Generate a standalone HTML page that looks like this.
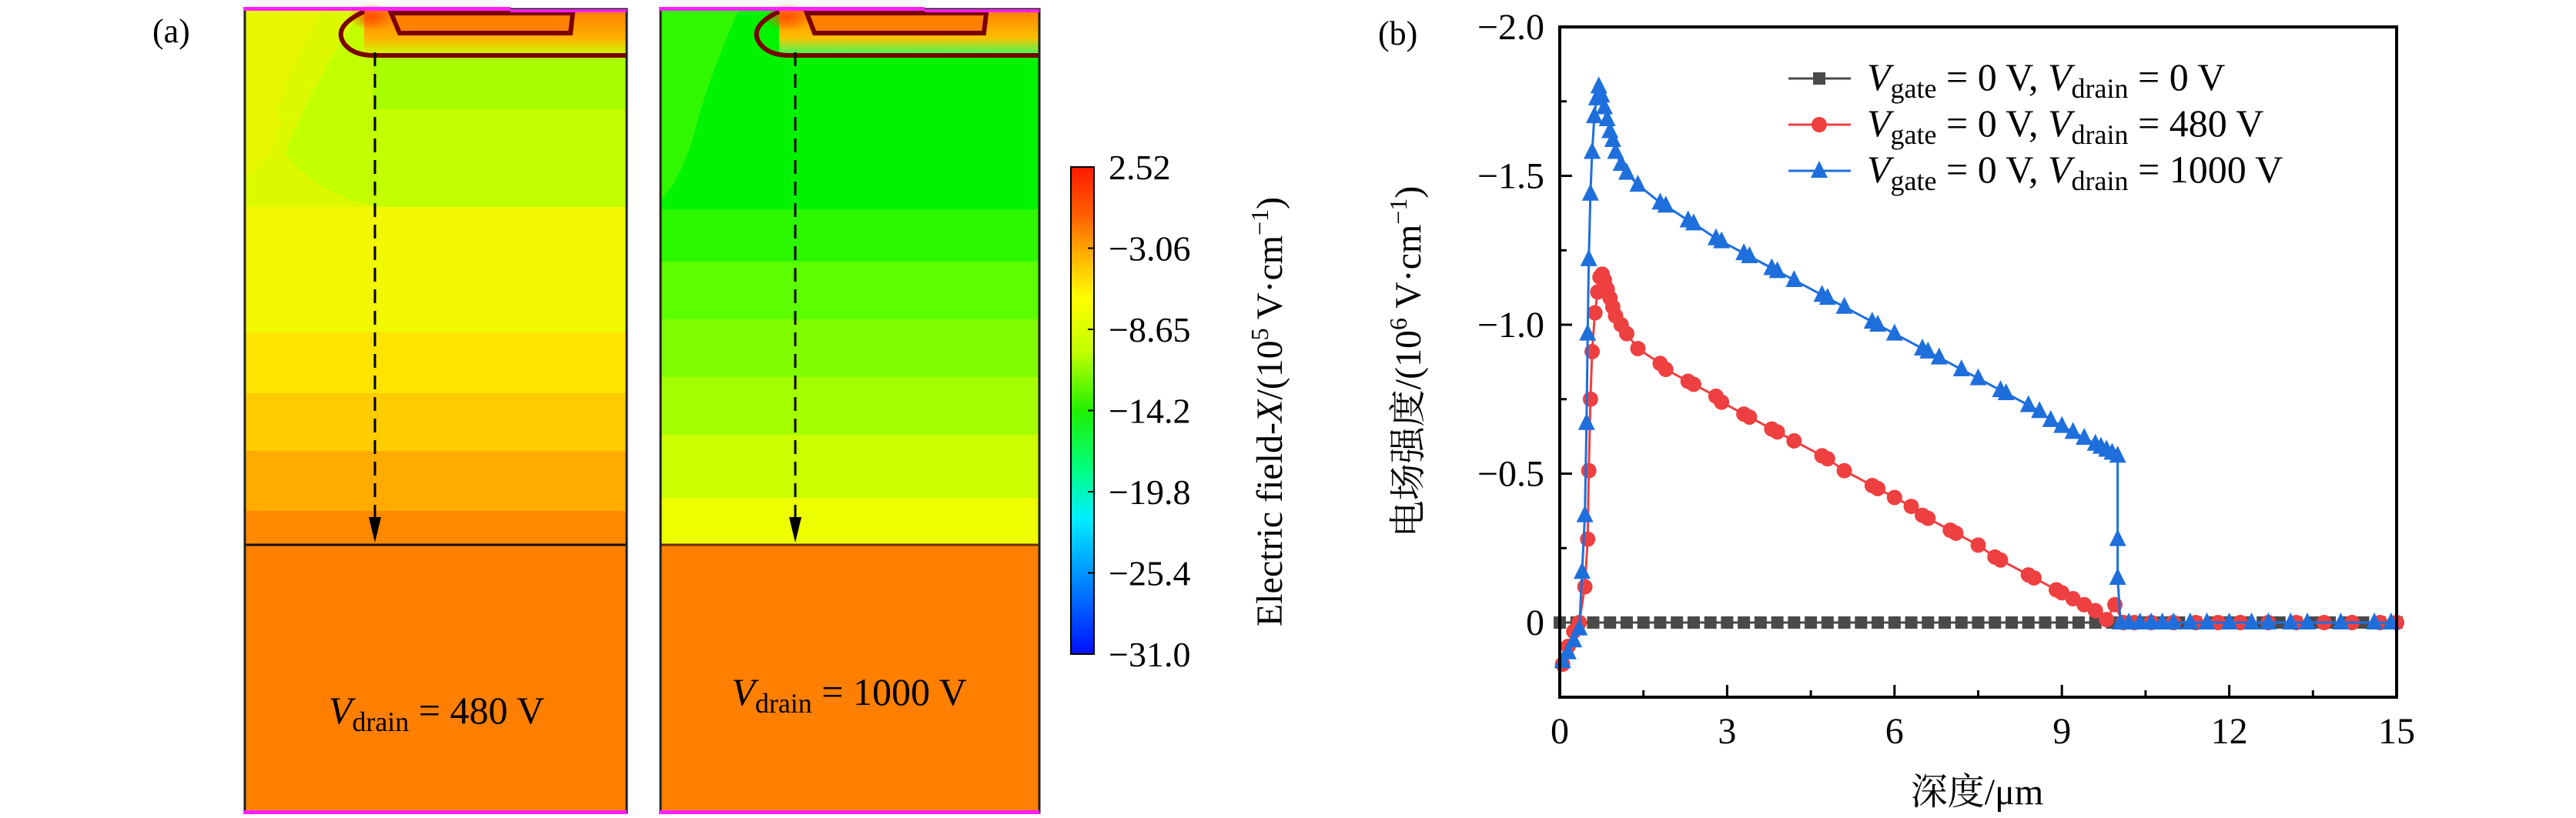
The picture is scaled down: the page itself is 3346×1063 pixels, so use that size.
<!DOCTYPE html>
<html><head><meta charset="utf-8"><style>
html,body{margin:0;padding:0;background:#fff}
svg{display:block;font-family:"Liberation Serif","Noto Serif CJK SC","Noto Sans CJK SC",serif}
</style></head><body>
<svg id="fig" width="3346" height="1063" viewBox="0 0 3346 1063" xmlns="http://www.w3.org/2000/svg">
<defs>
<linearGradient id="cbar" x1="0" y1="0" x2="0" y2="1">
<stop offset="0" stop-color="#ff1a00"/><stop offset="0.1" stop-color="#ff6000"/><stop offset="0.18" stop-color="#ffb000"/>
<stop offset="0.27" stop-color="#ffff00"/><stop offset="0.38" stop-color="#c0ff00"/><stop offset="0.5" stop-color="#20f000"/>
<stop offset="0.62" stop-color="#00ff80"/><stop offset="0.72" stop-color="#00f0ff"/><stop offset="0.84" stop-color="#0090ff"/>
<stop offset="1" stop-color="#0010ff"/></linearGradient>
<linearGradient id="gtop1" x1="0" y1="0" x2="0" y2="1"><stop offset="0" stop-color="#ff8000"/><stop offset="0.6" stop-color="#ffb000"/><stop offset="1" stop-color="#c8ff00"/></linearGradient>
<linearGradient id="gtop2" x1="0" y1="0" x2="0" y2="1"><stop offset="0" stop-color="#ff8000"/><stop offset="0.6" stop-color="#ffc000"/><stop offset="1" stop-color="#30ff60"/></linearGradient>
<radialGradient id="hot" cx="0.5" cy="0.5" r="0.5"><stop offset="0" stop-color="#ff5000"/><stop offset="1" stop-color="#ff5000" stop-opacity="0"/></radialGradient>
</defs>

<text x="198" y="55" font-size="44">(a)</text>

<g>
<rect x="318" y="12" width="496" height="257" fill="#c2ff00"/>
<path d="M318 12 L470 12 Q400 120 370 200 Q420 260 500 269 L318 269 Z" fill="#dcf900"/>
<path d="M318 12 L420 12 Q380 80 360 140 Q370 200 318 230 Z" fill="#e6f700"/>
<rect x="485" y="72" width="329" height="70" fill="#a8ff00"/>
<rect x="318" y="269" width="496" height="163" fill="#f2f800"/>
<rect x="318" y="432" width="496" height="79" fill="#ffe400"/>
<rect x="318" y="511" width="496" height="75" fill="#ffcc00"/>
<rect x="318" y="586" width="496" height="78" fill="#ffab00"/>
<rect x="318" y="664" width="496" height="44" fill="#ff8a00"/>
<rect x="318" y="708" width="496" height="348" fill="#ff7f00"/>
<rect x="473" y="14" width="341" height="58" fill="url(#gtop1)"/>
<ellipse cx="482" cy="22" rx="30" ry="18" fill="url(#hot)"/>
<path d="M508 17 L519 43 L741 43 L744 17 Z" fill="#ff7f00" stroke="#7a0000" stroke-width="6"/>
<path d="M473 15 Q430 35 448 58 Q460 72 485 72 L814 72" fill="none" stroke="#7a0000" stroke-width="6"/>
<line x1="318" y1="708" x2="814" y2="708" stroke="#111" stroke-width="3"/>
<rect x="318" y="12" width="496" height="1044" fill="none" stroke="#222" stroke-width="3"/>
<rect x="316" y="9" width="347" height="5" fill="#ff20ff"/><rect x="663" y="12" width="151" height="4" fill="#ff20ff"/>
<rect x="316" y="1053" width="498" height="5" fill="#ff20ff"/>
<line x1="487" y1="68" x2="487" y2="680" stroke="#000" stroke-width="3" stroke-dasharray="18,10"/>
<path d="M479 672 L495 672 L487 705 Z" fill="#000"/>
<text x="567" y="940" font-size="50" text-anchor="middle"><tspan font-style="italic">V</tspan><tspan font-size="36" dy="10">drain</tspan><tspan dy="-10"> = 480 V</tspan></text>
</g>

<g>
<rect x="858" y="12" width="492" height="272" fill="#00f400"/>
<path d="M858 12 L960 12 Q920 100 900 180 Q880 240 858 260 Z" fill="#30f800"/>
<rect x="858" y="272" width="492" height="68" fill="#2cf800"/>
<rect x="858" y="340" width="492" height="75" fill="#5cff00"/>
<rect x="858" y="415" width="492" height="75" fill="#80ff00"/>
<rect x="858" y="490" width="492" height="75" fill="#a4ff00"/>
<rect x="858" y="565" width="492" height="82" fill="#ccff00"/>
<rect x="858" y="647" width="492" height="61" fill="#eeff00"/>
<rect x="858" y="708" width="492" height="348" fill="#ff7f00"/>
<rect x="1012" y="14" width="338" height="58" fill="url(#gtop2)"/>
<ellipse cx="1022" cy="22" rx="30" ry="18" fill="url(#hot)"/>
<path d="M1048 17 L1058 43 L1278 43 L1281 17 Z" fill="#ff7f00" stroke="#7a0000" stroke-width="6"/>
<path d="M1012 15 Q970 35 988 58 Q1000 72 1025 72 L1350 72" fill="none" stroke="#7a0000" stroke-width="6"/>
<line x1="858" y1="708" x2="1350" y2="708" stroke="#6a3000" stroke-width="3"/>
<rect x="858" y="12" width="492" height="1044" fill="none" stroke="#222" stroke-width="3"/>
<rect x="856" y="9" width="345" height="5" fill="#ff20ff"/><rect x="1201" y="12" width="149" height="4" fill="#ff20ff"/>
<rect x="856" y="1053" width="494" height="5" fill="#ff20ff"/>
<line x1="1033" y1="68" x2="1033" y2="680" stroke="#000" stroke-width="3" stroke-dasharray="18,10"/>
<path d="M1025 672 L1041 672 L1033 705 Z" fill="#000"/>
<text x="1103" y="916" font-size="50" text-anchor="middle"><tspan font-style="italic">V</tspan><tspan font-size="36" dy="10">drain</tspan><tspan dy="-10"> = 1000 V</tspan></text>
</g>

<g id="colorbar">
<rect x="1391" y="217" width="30" height="633" fill="url(#cbar)" stroke="#000" stroke-width="2"/>
<text transform="translate(1665,535) rotate(-90)" font-size="48" text-anchor="middle">Electric field-<tspan font-style="italic">X</tspan>/(10<tspan font-size="32" dy="-18">5</tspan><tspan dy="18"> V·cm</tspan><tspan font-size="32" dy="-18">−1</tspan><tspan dy="18">)</tspan></text>
</g>

<text x="1790" y="58" font-size="44">(b)</text>
<g id="chart">
<text transform="translate(1845,470) rotate(-90)" font-size="48" text-anchor="middle">电场强度/(10<tspan font-size="32" dy="-18">6</tspan><tspan dy="18"> V·cm</tspan><tspan font-size="32" dy="-18">−1</tspan><tspan dy="18">)</tspan></text>
<text x="2568" y="1045" font-size="48" text-anchor="middle">深度/μm</text>
</g>

<script>
const cbLabels=['2.52','−3.06','−8.65','−14.2','−19.8','−25.4','−31.0'];
const cbPos=[0,1,2,3,4,5,6];

const xTicks=[0,3,6,9,12,15];
const xMinor=[1.5,4.5,7.5,10.5,13.5];
const yTicks=[-2.0,-1.5,-1.0,-0.5,0];
const yTickLabels=['−2.0','−1.5','−1.0','−0.5','0'];
const yMinor=[-1.75,-1.25,-0.75,-0.25];

const bx=[0.05,0.15,0.25,0.35,0.40,0.45,0.48,0.50,0.52,0.55,0.58,0.62,0.66,0.70,0.75,0.80,0.85,0.90,0.95,1.0,1.1,1.2,1.4,1.8,1.9,2.3,2.4,2.8,2.9,3.3,3.4,3.8,3.9,4.2,4.7,4.8,5.1,5.6,5.7,6.0,6.5,6.6,6.8,7.2,7.5,7.9,8.0,8.4,8.6,8.8,9.0,9.2,9.4,9.6,9.7,9.8,9.9,10.0,10.0,10.0,10.05,10.2,10.4,10.6,10.8,11.0,11.3,11.6,12.0,12.4,12.7,13.1,13.4,14.0,14.6,14.9];
const by=[0.13,0.10,0.06,0.02,-0.17,-0.36,-0.67,-0.97,-1.22,-1.44,-1.58,-1.70,-1.76,-1.80,-1.77,-1.73,-1.69,-1.65,-1.62,-1.58,-1.54,-1.51,-1.47,-1.41,-1.40,-1.35,-1.34,-1.29,-1.28,-1.24,-1.23,-1.19,-1.18,-1.15,-1.10,-1.09,-1.06,-1.01,-1.00,-0.97,-0.92,-0.91,-0.89,-0.85,-0.82,-0.78,-0.77,-0.73,-0.71,-0.68,-0.66,-0.64,-0.62,-0.60,-0.59,-0.58,-0.57,-0.56,-0.28,-0.15,0,0,0,0,0,0,0,0,0,0,0,0,0,0,0,0];

const rx=[0.05,0.15,0.25,0.35,0.45,0.50,0.52,0.55,0.58,0.63,0.68,0.72,0.76,0.80,0.85,0.90,0.95,1.0,1.1,1.2,1.4,1.8,1.9,2.3,2.4,2.8,2.9,3.3,3.4,3.8,3.9,4.2,4.7,4.8,5.1,5.6,5.7,6.0,6.3,6.5,6.6,7.0,7.1,7.5,7.8,7.9,8.4,8.5,8.9,9.0,9.2,9.4,9.6,9.8,9.95,10.1,10.3,10.6,11.0,11.4,11.8,12.2,12.7,13.2,13.7,14.2,14.7,15.0];
const ry=[0.14,0.08,0.03,0.0,-0.12,-0.28,-0.51,-0.75,-0.91,-1.04,-1.11,-1.16,-1.17,-1.15,-1.12,-1.09,-1.06,-1.03,-1.00,-0.97,-0.92,-0.87,-0.85,-0.81,-0.80,-0.76,-0.74,-0.70,-0.69,-0.65,-0.64,-0.61,-0.56,-0.55,-0.51,-0.46,-0.45,-0.42,-0.39,-0.36,-0.35,-0.31,-0.30,-0.26,-0.22,-0.21,-0.16,-0.15,-0.11,-0.10,-0.08,-0.06,-0.04,-0.01,-0.06,0,0,0,0,0,0,0,0,0,0,0,0,0];

const kx=[0,0.3,0.6,0.9,1.2,1.5,1.8,2.1,2.4,2.7,3.0,3.3,3.6,3.9,4.2,4.5,4.8,5.1,5.4,5.7,6.0,6.3,6.6,6.9,7.2,7.5,7.8,8.1,8.4,8.7,9.0,9.3,9.6,9.9,10.2,10.5,10.8,11.1,11.4,11.7,12.0,12.3,12.6,12.9,13.2,13.5,13.8,14.1,14.4,14.7,15.0];
const ky=[0,0,0,0,0,0,0,0,0,0,0,0,0,0,0,0,0,0,0,0,0,0,0,0,0,0,0,0,0,0,0,0,0,0,0,0,0,0,0,0,0,0,0,0,0,0,0,0,0,0,0];

const NS='http://www.w3.org/2000/svg';
function mk(tag,attrs,parent){const e=document.createElementNS(NS,tag);for(const k in attrs)e.setAttribute(k,attrs[k]);parent.appendChild(e);return e;}
function ts(parent,text,attrs){const e=mk('tspan',attrs||{},parent);e.textContent=text;return e;}

const cb=document.getElementById('colorbar');
const cbY=i=>217+i*(850-217)/6;
cbPos.forEach((p,i)=>{
  const t=mk('line',{x1:1421,y1:cbY(p),x2:1413,y2:cbY(p),stroke:'#000','stroke-width':2},cb);
  
  
  const tx=mk('text',{x:1440,y:cbY(p)+16,'font-size':46},cb);
  tx.textContent=cbLabels[i];
  
  
});

const L=2026,R=3113,T=35,B=906;
const X=v=>L+v*(R-L)/15;
const Y=v=>T+(v+2)*(809-T)/2;
const g=document.getElementById('chart');

xTicks.forEach((v,i)=>{
  const l=mk('line',{x1:X(v),y1:B,x2:X(v),y2:B-16,stroke:'#000','stroke-width':3},g);
  
  
  const t=mk('text',{x:X(v),y:966,'font-size':48,'text-anchor':'middle'},g);
  t.textContent=String(v);
  
  
});
xMinor.forEach(v=>{
  const l=mk('line',{x1:X(v),y1:B,x2:X(v),y2:B-9,stroke:'#000','stroke-width':3},g);
  
  
});
yTicks.forEach((v,i)=>{
  const l=mk('line',{x1:L,y1:Y(v),x2:L+16,y2:Y(v),stroke:'#000','stroke-width':3},g);
  
  
  const t=mk('text',{x:2006,y:Y(v)+16,'font-size':48,'text-anchor':'end'},g);
  t.textContent=yTickLabels[i];
  
  
});
yMinor.forEach(v=>{
  const l=mk('line',{x1:L,y1:Y(v),x2:L+9,y2:Y(v),stroke:'#000','stroke-width':3},g);
  
  
});

function marker(parent,type,cx,cy,color){
  if(type==='square')return mk('rect',{x:cx-8,y:cy-8,width:16,height:16,fill:color},parent);
  if(type==='circle')return mk('circle',{cx:cx,cy:cy,r:10,fill:color},parent);
  return mk('path',{d:`M${cx} ${cy-13} L${cx+11} ${cy+9} L${cx-11} ${cy+9} Z`,fill:color},parent);
}
function series(xs,ys,color,type,name){
  const sg=mk('g',{},g);
  
  
  const pts=xs.map((x,i)=>X(x)+','+Y(ys[i])).join(' ');
  const pl=mk('polyline',{points:pts,fill:'none',stroke:color,'stroke-width':3},sg);
  
  
  xs.forEach((x,i)=>{
    const m=marker(sg,type,X(x),Y(ys[i]),color);
    
    
  });
}
series(kx,ky,'#4a4a4a','square','series-0v');
series(rx,ry,'#ee4040','circle','series-480v');
series(bx,by,'#1e6fdc','triangle','series-1000v');

const fr=mk('rect',{x:L,y:T,width:R-L,height:B-T,fill:'none',stroke:'#000','stroke-width':4},g);



const legColors=['#4a4a4a','#ee4040','#1e6fdc'];
const legMarkers=['square','circle','triangle'];
const legDrain=['0 V','480 V','1000 V'];
legDrain.forEach((d,i)=>{
  const y=102+i*60;
  const lg=mk('g',{},g);
  
  
  mk('line',{x1:2323,y1:y,x2:2404,y2:y,stroke:legColors[i],'stroke-width':3},lg);
  marker(lg,legMarkers[i],2363,y,legColors[i]);
  const t=mk('text',{x:2425,y:y+15,'font-size':50},lg);
  ts(t,'V',{'font-style':'italic'});
  ts(t,'gate',{'font-size':36,dy:10});
  ts(t,' = 0 V, ',{dy:-10});
  ts(t,'V',{'font-style':'italic'});
  ts(t,'drain',{'font-size':36,dy:10});
  ts(t,' = '+d,{dy:-10});
});
</script>
</svg>
</body></html>
